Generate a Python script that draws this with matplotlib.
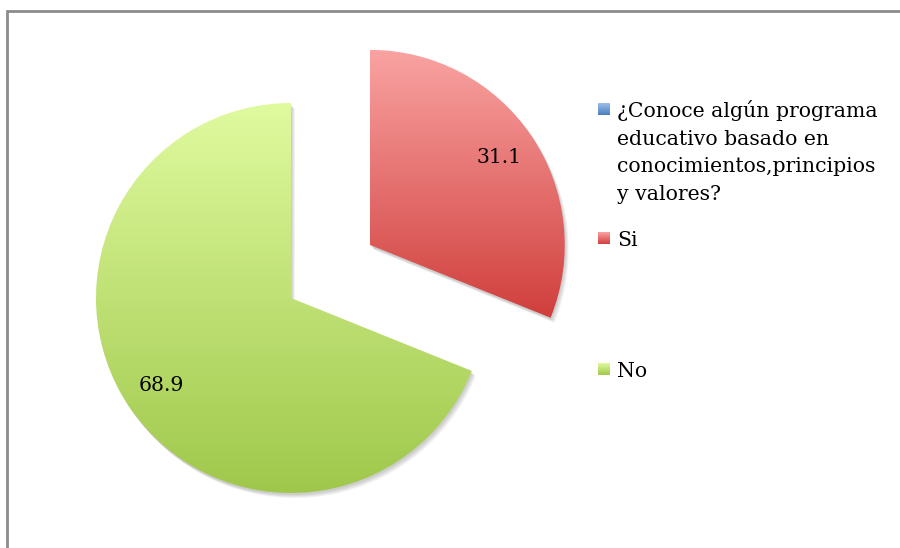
import numpy as np
import matplotlib.pyplot as plt
from matplotlib.colors import LinearSegmentedColormap
from matplotlib.patches import Rectangle, Wedge

# datos de la encuesta
etiquetas = ["Si", "No"]
valores = [31.1, 68.9]
titulo_serie = "¿Conoce algún programa\neducativo basado en\nconocimientos,principios\ny valores?"

# colores (arriba, abajo) del degradado de cada porción
colores = [("#f9a3a2", "#d03f3c"), ("#e0fa9f", "#9fc84b")]
color_serie = ("#9dbfea", "#4a7ebb")

fuente = "DejaVu Serif"
tam = 14.7


def degradado(ax, extent, c_arriba, c_abajo, clip=None, z=2):
    cmap = LinearSegmentedColormap.from_list("g", [c_abajo, c_arriba])
    grad = np.linspace(0, 1, 256).reshape(-1, 1)
    im = ax.imshow(grad, cmap=cmap, extent=extent, origin="lower",
                   aspect="auto", zorder=z, interpolation="bilinear")
    if clip is not None:
        im.set_clip_path(clip)
    return im


fig = plt.figure(figsize=(9, 5.48), dpi=100)
ax = fig.add_axes([0, 0, 1, 1])

wedges, textos, pcts = ax.pie(
    valores, explode=[95, 0], startangle=90, counterclock=False,
    radius=195, center=(291, 250), autopct="%.1f", pctdistance=0.8,
    textprops=dict(fontsize=tam, family=fuente, color="black"))

for w, (c1, c2) in zip(wedges, colores):
    # sombra suave debajo de cada porción
    for k in range(4):
        s = Wedge((w.center[0] + 1 + k, w.center[1] - 2 - k), w.r,
                  w.theta1, w.theta2, color="#000000", alpha=0.05, lw=0, zorder=1)
        ax.add_patch(s)
    e = w.get_path().get_extents()
    degradado(ax, [e.x0, e.x1, e.y0, e.y1], c1, c2, clip=w, z=2)
    w.set_facecolor("none")
    w.set_edgecolor("none")
    w.set_zorder(2)

for t in pcts:
    t.set_zorder(5)

# leyenda dibujada a mano (y = línea base de la primera línea)
entradas = [titulo_serie] + etiquetas
colores_ley = [color_serie] + colores
base_y = [548 - 117, 548 - 246, 548 - 377]
paso = 27.7
for txt, (c1, c2), yb in zip(entradas, colores_ley, base_y):
    ycen = yb + 7.5
    degradado(ax, [598, 610, ycen - 6, ycen + 6], c1, c2, z=3)
    for i, linea in enumerate(txt.split("\n")):
        ax.text(617, yb - i * paso, linea, ha="left", va="baseline",
                fontsize=tam, family=fuente, color="black")

ax.set_xlim(0, 900)
ax.set_ylim(0, 548)
ax.set_aspect("equal")
ax.axis("off")

# marco gris del gráfico
fig.patches.append(Rectangle((7 / 900, -0.1), 2, 1.1 - 11 / 548, fill=False,
                             edgecolor="#8c8c8c", lw=2,
                             transform=fig.transFigure))

fig.savefig("out.png", dpi=100)
